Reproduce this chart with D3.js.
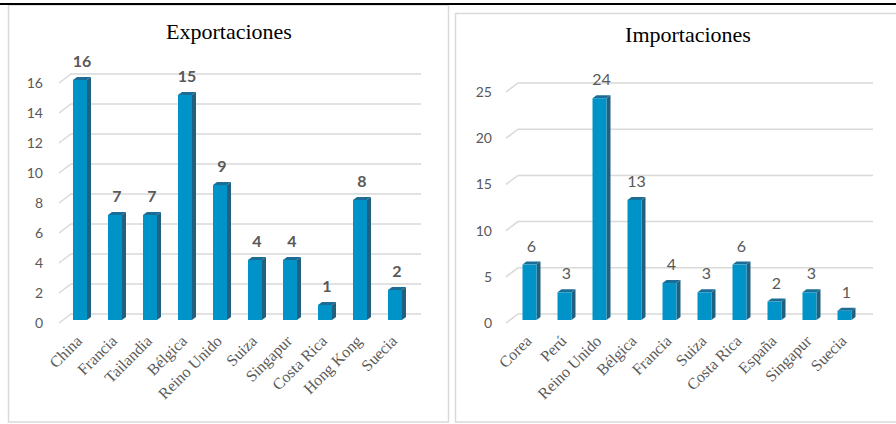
<!DOCTYPE html>
<html>
<head>
  <meta charset="utf-8">
  <title>Exportaciones e Importaciones</title>
  <style>
    body { margin: 0; background: #fff; }
    svg { display: block; }
  </style>
</head>
<body>
  <script src="https://cdn.jsdelivr.net/npm/d3@7/dist/d3.min.js"></script>
  <script>
    // data
    var expCountries = ["China", "Francia", "Tailandia", "Bélgica", "Reino Unido", "Suiza", "Singapur", "Costa Rica", "Hong Kong", "Suecia"];
    var expValues = [16, 7, 7, 15, 9, 4, 4, 1, 8, 2];
    var expTicks = [0, 2, 4, 6, 8, 10, 12, 14, 16];

    var impCountries = ["Corea", "Perú", "Reino Unido", "Bélgica", "Francia", "Suiza", "Costa Rica", "España", "Singapur", "Suecia"];
    var impValues = [6, 3, 24, 13, 4, 3, 6, 2, 3, 1];
    var impTicks = [0, 5, 10, 15, 20, 25];

    var w = 896, h = 424;
    var svg = d3.select("body").append("svg").attr("width", w).attr("height", h);

    // panel frames
    svg.append("rect").attr("x", 8.5).attr("y", 5).attr("width", 440).attr("height", 417)
      .attr("fill", "none").attr("stroke", "#d9d9d9").attr("stroke-width", 1.5);
    svg.append("rect").attr("x", 455.5).attr("y", 13.5).attr("width", 445).attr("height", 408.5)
      .attr("fill", "none").attr("stroke", "#d9d9d9").attr("stroke-width", 1.5);
    // black rule at the top
    svg.append("line").attr("x1", 0).attr("x2", w).attr("y1", 4).attr("y2", 4)
      .attr("stroke", "#000").attr("stroke-width", 2);

    function drawPanel(opt) {
      var g = svg.append("g");
      var x = d3.scaleBand().domain(opt.cats).range(opt.xRange).paddingInner(0.6).paddingOuter(0.3);
      var y = d3.scaleLinear().domain([0, opt.max]).range([314, opt.yTop]);
      var front = 6, dx = 4, dy = 3;
      var gx0 = opt.gridX0, gx1 = opt.gridX1;

      // title
      g.append("text").attr("x", opt.titleX).attr("y", opt.titleY)
        .attr("text-anchor", "middle")
        .style("font-family", "'Liberation Serif', 'Times New Roman', serif")
        .style("font-size", "22px").attr("fill", "#000").text(opt.title);

      // gridlines with the perspective wedge on the left
      var grid = g.append("g");
      opt.ticks.forEach(function(t) {
        grid.append("polyline")
          .attr("points", [[gx0 - 12, y(t) + 9], [gx0, y(t)], [gx1, y(t)]].join(" "))
          .attr("fill", "none").attr("stroke", "#d9d9d9").attr("stroke-width", 1.5);
      });

      // y axis labels
      var yAxis = d3.axisLeft(y).tickValues(opt.ticks).tickSize(0).tickPadding(0);
      var ya = g.append("g").attr("transform", "translate(" + opt.labelX + ",9)").call(yAxis);
      ya.select(".domain").remove();
      ya.selectAll("text")
        .style("font-family", "Lato, 'Open Sans', sans-serif")
        .style("font-size", "14px").attr("fill", "#595959");

      // bars with a simple 3D look
      var bars = g.selectAll(".bar").data(opt.values).enter().append("g").attr("class", "bar");
      var base = y(0) + front;
      bars.append("polygon")
        .attr("points", function(d, i) {
          var x0 = x(opt.cats[i]) + x.bandwidth(), yt = y(d) + front;
          return [[x0, yt], [x0 + dx, yt - dy], [x0 + dx, base - dy], [x0, base]].join(" ");
        })
        .attr("fill", "#22607f");
      bars.append("polygon")
        .attr("points", function(d, i) {
          var x0 = x(opt.cats[i]), x1 = x0 + x.bandwidth(), yt = y(d) + front;
          return [[x0, yt], [x0 + dx, yt - dy], [x1 + dx, yt - dy], [x1, yt]].join(" ");
        })
        .attr("fill", "#1c6d96");
      bars.append("rect")
        .attr("x", function(d, i) { return x(opt.cats[i]); })
        .attr("y", function(d) { return y(d) + front; })
        .attr("width", x.bandwidth())
        .attr("height", function(d) { return base - (y(d) + front); })
        .attr("fill", "#0093c8");

      // value labels
      bars.append("text")
        .attr("x", function(d, i) { return x(opt.cats[i]) + x.bandwidth() / 2 + 2; })
        .attr("y", function(d) { return y(d) + front - 13; })
        .attr("text-anchor", "middle")
        .style("font-family", "Lato, 'Open Sans', sans-serif")
        .style("font-size", "16px")
        .style("font-weight", opt.bold ? "bold" : "normal")
        .attr("fill", "#595959")
        .text(function(d) { return d; });

      // category labels
      g.selectAll(".cat").data(opt.cats).enter().append("text")
        .attr("class", "cat")
        .attr("transform", function(d) {
          return "translate(" + (x(d) + x.bandwidth() / 2 + 3) + ",342) rotate(-45)";
        })
        .attr("text-anchor", "end")
        .style("font-family", "'Liberation Serif', 'Times New Roman', serif")
        .style("font-size", "16px").attr("fill", "#595959")
        .text(function(d) { return d; });
    }

    drawPanel({
      title: "Exportaciones", titleX: 229, titleY: 39,
      cats: expCountries, values: expValues, ticks: expTicks, max: 16, yTop: 74,
      xRange: [62.5, 412.5], gridX0: 71, gridX1: 421, labelX: 43, bold: true
    });

    drawPanel({
      title: "Importaciones", titleX: 688, titleY: 42,
      cats: impCountries, values: impValues, ticks: impTicks, max: 25, yTop: 83,
      xRange: [512, 862], gridX0: 518, gridX1: 873, labelX: 492, bold: false
    });
  </script>
</body>
</html>
